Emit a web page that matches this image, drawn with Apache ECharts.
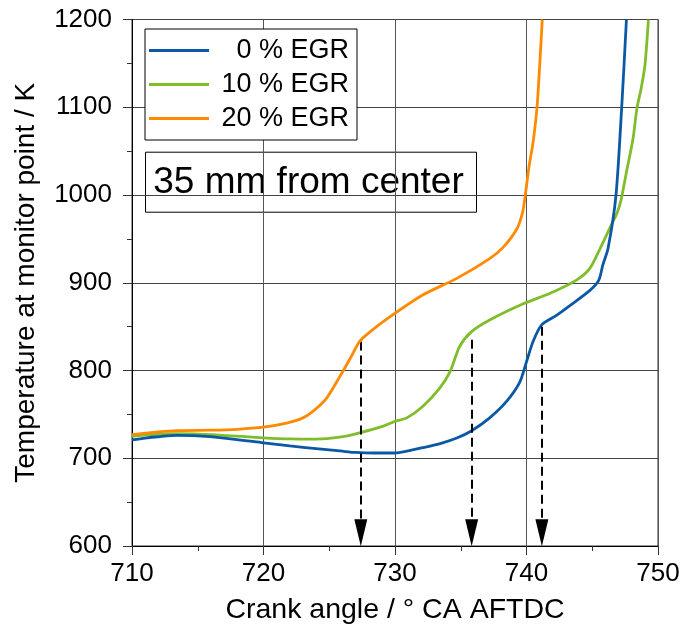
<!DOCTYPE html>
<html>
<head>
<meta charset="utf-8">
<script src="https://cdn.jsdelivr.net/npm/echarts@6/dist/echarts.min.js"></script>
<style>
html,body{margin:0;padding:0;background:#fff;}
#c{width:684px;height:630px;}
</style>
</head>
<body>
<div id="c"></div>
<script>
var seriesNames = ['0 % EGR', '10 % EGR', '20 % EGR'];
var xTicks = [710, 720, 730, 740, 750];
var yTicks = [600, 700, 800, 900, 1000, 1100, 1200];

var egr0X = [710, 711, 712, 713.4, 715, 717, 720, 722, 724, 726, 727, 728.5, 730, 731, 732.1, 733.5, 734.7, 735.8, 737.2, 738.5, 739.5, 740.0, 740.5, 741.15, 742.3, 743.3, 744.8, 745.5, 745.8, 746.2, 746.8, 747.24, 747.6];
var egr0Y = [721, 723, 724.5, 726, 725.5, 723, 717.6, 714, 711, 708, 706.6, 706, 706, 708.5, 712, 717, 723, 731, 746, 765, 787, 810, 833, 852, 863, 874, 891, 903, 920, 939, 999, 1100, 1200];

var egr10X = [710, 711.5, 713.4, 716, 720, 722, 724, 725.8, 727.3, 729, 730, 730.9, 732.1, 733.4, 734.2, 734.9, 735.8, 737.2, 739.75, 741.8, 743.8, 744.8, 745.6, 746.3, 746.9, 747.2, 747.6, 748.1, 748.4, 748.7, 749.0, 749.2, 749.27];
var egr10Y = [725, 727, 728, 727, 723.3, 722, 721.8, 724, 729, 736, 742, 746, 759, 780, 799, 827, 844, 857.5, 876, 888, 903, 916, 939, 961, 980, 995, 1026, 1064, 1099, 1120, 1147, 1184, 1200];

var egr20X = [710, 712, 713.4, 716, 718, 720, 721.75, 723, 723.8, 724.8, 725.8, 726.6, 727.3, 728.1, 729.6, 732.1, 734.7, 737.2, 738.2, 739.25, 739.7, 739.9, 740.2, 740.5, 740.8, 741.0, 741.2];
var egr20Y = [727, 730, 731.5, 732, 733, 735.4, 740, 746, 754, 768.6, 793, 814, 833, 844, 861, 886, 905, 927.5, 940, 961, 980, 999, 1033, 1060, 1100, 1147, 1200];

var arrowX = [727.4, 735.83, 741.17];
var arrowTop = [833, 835, 850];
var arrowBottom = [615, 615, 615];

var boxText = '35 mm from center';

function pairs(xs, ys) { return xs.map(function (x, i) { return [x, ys[i]]; }); }

var colors = ['#0a58a6', '#80bd2a', '#ff8a00'];
var FONT = '"Liberation Sans", Arial, sans-serif';

var chart = echarts.init(document.getElementById('c'), null, {renderer: 'canvas'});

var arrowData = arrowX.map(function (x, i) {
  return [{coord: [x, arrowTop[i]]}, {coord: [x, arrowBottom[i]]}];
});

function lineSeries(idx, xs, ys, z) {
  return {name: seriesNames[idx], type: 'line', data: pairs(xs, ys), showSymbol: false, symbol: 'none',
    smooth: 0.25, lineStyle: {color: colors[idx], width: 2.8}, itemStyle: {color: colors[idx]}, z: z};
}

var option = {
  backgroundColor: '#fff',
  animation: false,
  textStyle: {fontFamily: FONT},
  grid: {left: 132, right: 26, top: 19.5, bottom: 81.3, show: true, borderColor: '#333', borderWidth: 1, backgroundColor: 'transparent'},
  legend: {
    orient: 'vertical',
    left: 145, top: 29,
    padding: [8, 8, 8, 4],
    itemGap: 7,
    itemWidth: 60, itemHeight: 3,
    itemTextGap: 5,
    icon: 'rect',
    backgroundColor: '#fff',
    borderColor: '#000', borderWidth: 1,
    data: seriesNames,
    formatter: function (n) { return '{a|' + n + '}'; },
    textStyle: {
      color: '#000', fontFamily: FONT, fontSize: 27,
      rich: {a: {width: 135, align: 'right', fontSize: 27, lineHeight: 26, color: '#000', fontFamily: FONT}}
    }
  },
  xAxis: {
    type: 'value', min: 710, max: 750, interval: 10,
    name: 'Crank angle / ° CA AFTDC', nameLocation: 'middle', nameGap: 50,
    nameTextStyle: {fontSize: 28.5, color: '#000', fontFamily: FONT},
    axisLine: {show: true, onZero: false, lineStyle: {color: '#000', width: 1}},
    axisTick: {show: true, inside: false, length: 9, lineStyle: {color: '#333'}},
    minorTick: {show: true, splitNumber: 2, length: 5, lineStyle: {color: '#333'}},
    axisLabel: {fontSize: 26, color: '#000', margin: 15, fontFamily: FONT,
      formatter: function (v) { return xTicks.indexOf(v) >= 0 ? String(v) : ''; }},
    splitLine: {show: true, lineStyle: {color: '#555', width: 1}}
  },
  yAxis: {
    type: 'value', min: 600, max: 1200, interval: 100,
    name: 'Temperature at monitor point / K', nameLocation: 'middle', nameGap: 92, nameRotate: 90,
    nameTextStyle: {fontSize: 28, color: '#000', fontFamily: FONT},
    axisLine: {show: true, onZero: false, lineStyle: {color: '#000', width: 1}},
    axisTick: {show: true, inside: false, length: 9, lineStyle: {color: '#333'}},
    minorTick: {show: true, splitNumber: 2, length: 5, lineStyle: {color: '#333'}},
    axisLabel: {fontSize: 26, color: '#000', margin: 20, fontFamily: FONT,
      formatter: function (v) { return yTicks.indexOf(v) >= 0 ? String(v) : ''; }},
    splitLine: {show: true, lineStyle: {color: '#444', width: 1}}
  },
  series: [
    lineSeries(1, egr10X, egr10Y, 3),
    lineSeries(0, egr0X, egr0Y, 4),
    lineSeries(2, egr20X, egr20Y, 5),
    {name: 'arrows', type: 'line', data: [], z: 6,
      markLine: {
        silent: true, animation: false,
        symbol: ['none', 'triangle'], symbolSize: [13, 27],
        label: {show: false},
        lineStyle: {color: '#000', width: 2, type: [9, 5]},
        itemStyle: {color: '#000'},
        emphasis: {disabled: true},
        data: arrowData
      }
    }
  ],
  graphic: [
    {type: 'group', left: 145, top: 151.7, children: [
      {type: 'rect', shape: {x: 0, y: 0, width: 331, height: 60}, style: {fill: '#fff', stroke: '#000', lineWidth: 1}},
      {type: 'text', x: 163, y: 31, style: {text: boxText, font: '37px ' + FONT, fill: '#000', align: 'center', verticalAlign: 'middle'}}
    ]}
  ]
};
chart.setOption(option);
</script>
</body>
</html>
